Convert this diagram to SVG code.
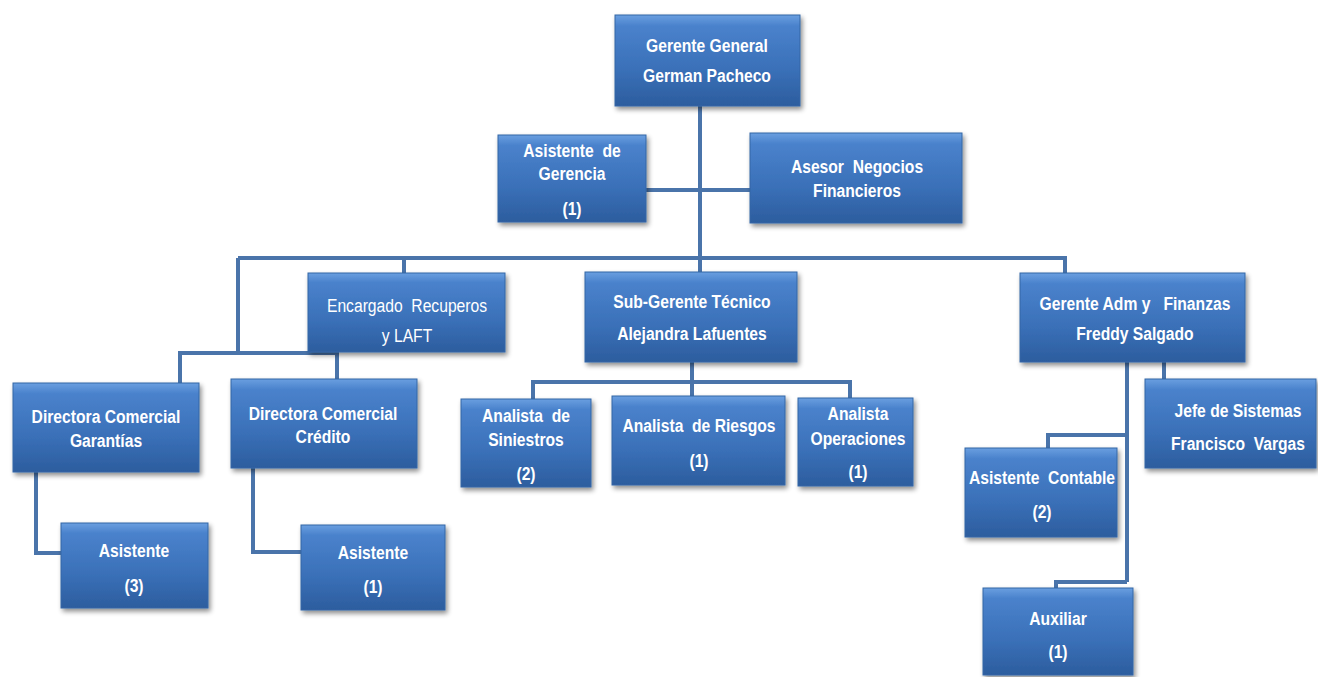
<svg xmlns="http://www.w3.org/2000/svg" width="1318" height="677" viewBox="0 0 1318 677">
<defs>
<linearGradient id="bg" x1="0" y1="0" x2="0" y2="1">
<stop offset="0" stop-color="#6a9fe0"/>
<stop offset="0.12" stop-color="#4a82cc"/>
<stop offset="0.6" stop-color="#3a70b8"/>
<stop offset="1" stop-color="#2c5d9e"/>
</linearGradient>
<filter id="sh" x="-10%" y="-10%" width="125%" height="130%">
<feGaussianBlur in="SourceAlpha" stdDeviation="2.5"/>
<feOffset dx="2" dy="3" result="b"/>
<feComponentTransfer><feFuncA type="linear" slope="0.45"/></feComponentTransfer>
<feMerge><feMergeNode/><feMergeNode in="SourceGraphic"/></feMerge>
</filter>
</defs>
<style>
.box{fill:url(#bg);stroke:#3566a6;stroke-width:1;filter:url(#sh)}
.t{font-family:"Liberation Sans",Arial,sans-serif;font-size:18px;font-weight:bold;fill:#ffffff;text-anchor:middle;transform-box:fill-box;transform-origin:center;transform:scaleX(0.87)}
.n{font-weight:normal}
.c{fill:none;stroke:#4a74aa;stroke-width:4}
</style>
<rect width="1318" height="677" fill="#ffffff"/>
<g id="connectors">
<path class="c" d="M700,106 V258"/>
<path class="c" d="M646,190 H750"/>
<path class="c" d="M238,258 H1065 V273"/>
<path class="c" d="M404,258 V273"/>
<path class="c" d="M700,258 V272"/>
<path class="c" d="M238,258 V352"/>
<path class="c" d="M180,383 V353 H337 V379"/>
<path class="c" d="M36,472 V553 H61"/>
<path class="c" d="M253,468 V552 H301"/>
<path class="c" d="M692,362 V396"/>
<path class="c" d="M533,399 V382 H850 V398"/>
<path class="c" d="M1086,342 V358 H1164 V379"/>
<path class="c" d="M1127,362 V582"/>
<path class="c" d="M1127,435 H1048 V448"/>
<path class="c" d="M1127,582 H1056 V590"/>
</g>
<g id="gerente-general"><rect class="box" x="615" y="15" width="185" height="91"/><text class="t" x="707" y="52">Gerente General</text><text class="t" x="707" y="82">German Pacheco</text></g>
<g id="asistente-gerencia"><rect class="box" x="498" y="135" width="148" height="87"/><text class="t" x="572" y="157" xml:space="preserve">Asistente  de</text><text class="t" x="572" y="180">Gerencia</text><text class="t" x="572" y="215">(1)</text></g>
<g id="asesor"><rect class="box" x="750" y="133" width="212" height="90"/><text class="t" x="857" y="173" xml:space="preserve">Asesor  Negocios</text><text class="t" x="857" y="197">Financieros</text></g>
<g id="encargado"><rect class="box" x="308" y="273" width="197" height="79"/><text class="t n" x="407" y="312" xml:space="preserve">Encargado  Recuperos</text><text class="t n" x="407" y="342">y LAFT</text></g>
<g id="subgerente"><rect class="box" x="585" y="272" width="212" height="90"/><text class="t" x="692" y="308">Sub-Gerente Técnico</text><text class="t" x="692" y="340">Alejandra Lafuentes</text></g>
<g id="gerente-adm"><rect class="box" x="1020" y="273" width="225" height="89"/><text class="t" x="1135" y="310" xml:space="preserve">Gerente Adm y   Finanzas</text><text class="t" x="1135" y="340">Freddy Salgado</text></g>
<g id="dir-garantias"><rect class="box" x="13" y="383" width="186" height="89"/><text class="t" x="106" y="423">Directora Comercial</text><text class="t" x="106" y="447">Garantías</text></g>
<g id="dir-credito"><rect class="box" x="231" y="379" width="186" height="89"/><text class="t" x="323" y="420">Directora Comercial</text><text class="t" x="323" y="443">Crédito</text></g>
<g id="asistente-3"><rect class="box" x="61" y="523" width="147" height="85"/><text class="t" x="134" y="557">Asistente</text><text class="t" x="134" y="592">(3)</text></g>
<g id="asistente-1"><rect class="box" x="301" y="525" width="144" height="85"/><text class="t" x="373" y="559">Asistente</text><text class="t" x="373" y="593">(1)</text></g>
<g id="analista-siniestros"><rect class="box" x="461" y="399" width="130" height="88"/><text class="t" x="526" y="422" xml:space="preserve">Analista  de</text><text class="t" x="526" y="446">Siniestros</text><text class="t" x="526" y="480">(2)</text></g>
<g id="analista-riesgos"><rect class="box" x="612" y="396" width="173" height="89"/><text class="t" x="699" y="432" xml:space="preserve">Analista  de Riesgos</text><text class="t" x="699" y="467">(1)</text></g>
<g id="analista-operaciones"><rect class="box" x="798" y="398" width="115" height="88"/><text class="t" x="858" y="420">Analista</text><text class="t" x="858" y="445">Operaciones</text><text class="t" x="858" y="478">(1)</text></g>
<g id="jefe-sistemas"><rect class="box" x="1145" y="379" width="171" height="89"/><text class="t" x="1238" y="417">Jefe de Sistemas</text><text class="t" x="1238" y="450" xml:space="preserve">Francisco  Vargas</text></g>
<g id="asistente-contable"><rect class="box" x="965" y="448" width="152" height="89"/><text class="t" x="1042" y="484" xml:space="preserve">Asistente  Contable</text><text class="t" x="1042" y="518">(2)</text></g>
<g id="auxiliar"><rect class="box" x="983" y="588" width="150" height="87"/><text class="t" x="1058" y="625">Auxiliar</text><text class="t" x="1058" y="658">(1)</text></g>
</svg>
